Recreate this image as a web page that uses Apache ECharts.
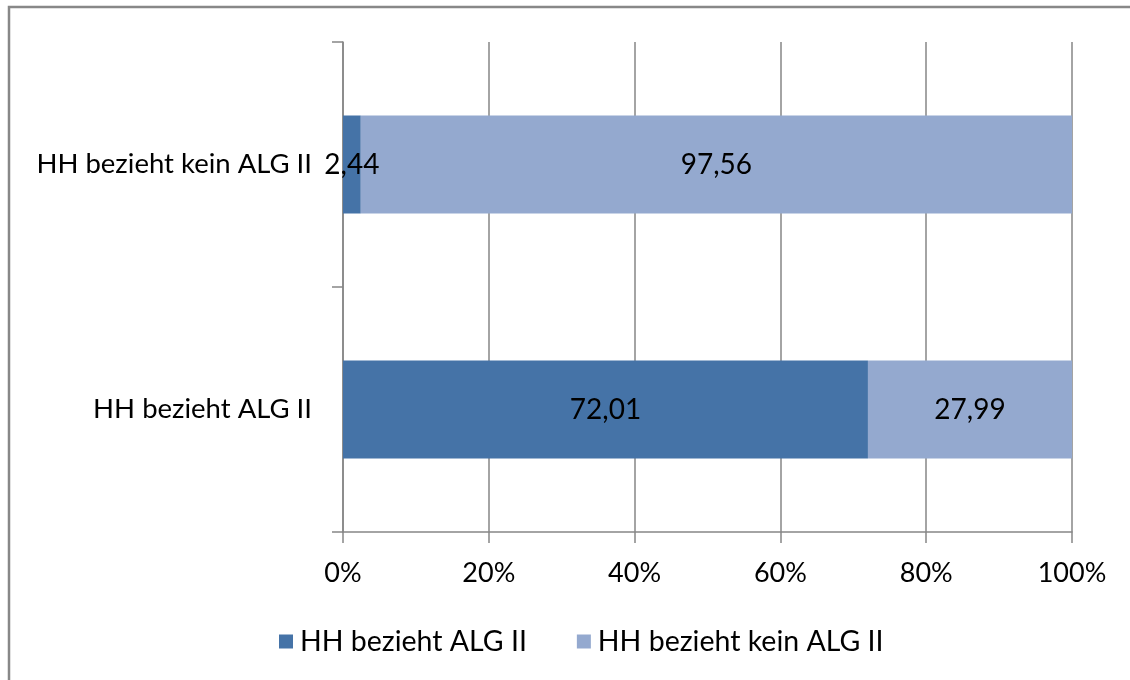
<!DOCTYPE html>
<html><head><meta charset="utf-8">
<script src="https://cdn.jsdelivr.net/npm/echarts@6/dist/echarts.min.js"></script>
<style>html,body{margin:0;padding:0;background:#fff}#c{width:1130px;height:680px}</style>
</head><body><div id="c"></div>
<script>
const categories = ['HH bezieht ALG II', 'HH bezieht kein ALG II'];
const seriesNames = ['HH bezieht ALG II', 'HH bezieht kein ALG II'];
const valuesALG = [72.01, 2.44];
const valuesKein = [27.99, 97.56];
const xTicks = [0, 20, 40, 60, 80, 100];

const FONT = 'Lato';
const fmt = v => v.toFixed(2).replace('.', ',');
const chart = echarts.init(document.getElementById('c'));
const labelCfg = {show: true, position: 'inside', color: '#000', fontFamily: FONT, fontSize: 28,
  formatter: p => fmt(p.value)};
chart.setOption({
  animation: false,
  textStyle: {fontFamily: FONT},
  graphic: [{type: 'rect', shape: {x: 9, y: 7, width: 1140, height: 700}, style: {fill: 'none', stroke: '#888', lineWidth: 2.5}, silent: true}],
  grid: {left: 343, right: 58, top: 42, bottom: 148},
  legend: {top: 622, left: 274, itemWidth: 14, itemHeight: 14, itemGap: 50,
    textStyle: {fontFamily: FONT, fontSize: 28.5, color: '#000', padding: [0, 0, 0, 2]},
    data: seriesNames.map(n => ({name: n, icon: 'rect'}))},
  xAxis: {type: 'value', min: 0, max: 100, interval: 20,
    axisLine: {show: true, lineStyle: {color: '#868686', width: 1.5}},
    axisTick: {show: true, length: 11, lineStyle: {color: '#868686', width: 1.5}},
    splitLine: {show: true, lineStyle: {color: '#868686', width: 1.5}},
    axisLabel: {formatter: v => xTicks.includes(v) ? v + '%' : '', margin: 28, color: '#000', fontFamily: FONT, fontSize: 27}},
  yAxis: {type: 'category', data: categories,
    axisLine: {show: true, lineStyle: {color: '#868686', width: 1.5}},
    axisTick: {show: true, length: 11, lineStyle: {color: '#868686', width: 1.5}},
    axisLabel: {margin: 31, color: '#000', fontFamily: FONT, fontSize: 27.5}},
  series: [
    {name: seriesNames[0], type: 'bar', stack: 't', barWidth: 98, data: valuesALG,
     itemStyle: {color: '#4573A7'}, label: labelCfg},
    {name: seriesNames[1], type: 'bar', stack: 't', barWidth: 98, data: valuesKein,
     itemStyle: {color: '#94A9CF'}, label: labelCfg}
  ]
});
</script></body></html>
